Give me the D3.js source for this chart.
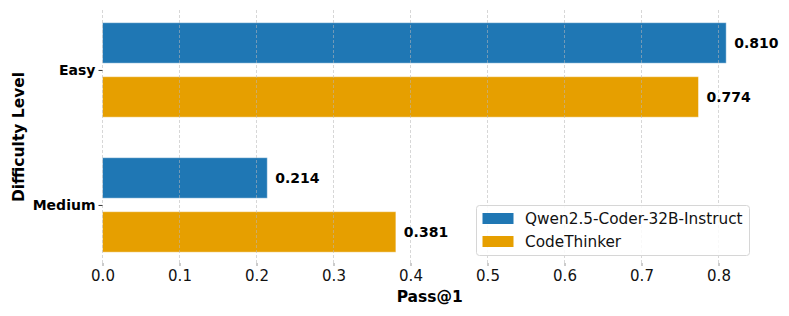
<!DOCTYPE html>
<html>
<head>
<meta charset="utf-8">
<script src="https://cdn.jsdelivr.net/npm/d3@7"></script>
<style>
  body { margin: 0; background: #fff; }
  svg { font-family: "DejaVu Sans", sans-serif; }
</style>
</head>
<body>
<svg width="789" height="316"></svg>
<script>
// difficulty levels, top to bottom
var categories = ["Easy", "Medium"];
var seriesNames = ["Qwen2.5-Coder-32B-Instruct", "CodeThinker"];
var qwenValues = [0.810, 0.214];
var thinkerValues = [0.774, 0.381];
var xTicks = [0.0, 0.1, 0.2, 0.3, 0.4, 0.5, 0.6, 0.7, 0.8];

var colors = ["#1f77b4", "#e69f00"];
var series = [qwenValues, thinkerValues];

var svg = d3.select("svg");

var plotTop = 10, plotBottom = 263;

var x = d3.scaleLinear().domain([0, 0.8]).range([102.5, 718.5]);
// category index -> pixel
var y = d3.scaleLinear().domain([-0.444, 1.43]).range([plotTop, plotBottom]);

var barH = 0.3, offsets = [-0.2, 0.2];

var bars = [];
categories.forEach(function(c, i) {
  series.forEach(function(s, j) {
    bars.push({ cat: i, series: j, value: s[i] });
  });
});

// bars
svg.append("g").selectAll("rect")
  .data(bars)
  .enter().append("rect")
  .attr("x", x(0))
  .attr("y", function(d) { return y(d.cat + offsets[d.series] - barH / 2); })
  .attr("width", function(d) { return x(d.value) - x(0); })
  .attr("height", function(d) { return y(barH) - y(0); })
  .attr("fill", function(d) { return colors[d.series]; })
  .attr("stroke", "#ffffff")
  .attr("stroke-opacity", 0.45)
  .attr("stroke-width", 1);

// grid on top of the bars
svg.append("g").selectAll("line")
  .data(xTicks)
  .enter().append("line")
  .attr("x1", function(d) { return x(d); })
  .attr("x2", function(d) { return x(d); })
  .attr("y1", plotTop)
  .attr("y2", plotBottom)
  .attr("stroke", "#b8b8b8")
  .attr("stroke-opacity", 0.7)
  .attr("stroke-width", 0.8)
  .attr("stroke-dasharray", "3,2");

// value labels
svg.append("g").selectAll("text")
  .data(bars)
  .enter().append("text")
  .attr("x", function(d) { return x(d.value) + 8; })
  .attr("y", function(d) { return y(d.cat + offsets[d.series]); })
  .attr("dy", "0.35em")
  .attr("font-size", 14)
  .attr("font-weight", "bold")
  .attr("fill", "#000")
  .text(function(d) { return d.value.toFixed(3); });

// x axis
var xAxis = svg.append("g")
  .attr("transform", "translate(0," + plotBottom + ")")
  .call(d3.axisBottom(x).tickValues(xTicks).tickFormat(d3.format(".1f")).tickSize(3).tickPadding(4));
xAxis.select(".domain").remove();
xAxis.selectAll(".tick line").attr("stroke", "#999");
xAxis.selectAll("text").attr("font-size", 15).attr("fill", "#111").attr("font-family", "DejaVu Sans");

// y axis
var yAxis = svg.append("g")
  .attr("transform", "translate(" + x(0) + ",0)")
  .call(d3.axisLeft(y).tickValues([0, 1]).tickFormat(function(i) { return categories[i]; }).tickSize(4).tickPadding(3));
yAxis.select(".domain").remove();
yAxis.selectAll(".tick line").attr("stroke", "#333");
yAxis.selectAll("text").attr("font-size", 14).attr("font-weight", "bold").attr("fill", "#000").attr("font-family", "DejaVu Sans");

// axis titles
svg.append("text")
  .attr("x", x(0.425))
  .attr("y", 302)
  .attr("text-anchor", "middle")
  .attr("font-size", 15.5)
  .attr("font-weight", "bold")
  .text("Pass@1");

svg.append("text")
  .attr("transform", "translate(24,137) rotate(-90)")
  .attr("text-anchor", "middle")
  .attr("font-size", 15.5)
  .attr("font-weight", "bold")
  .text("Difficulty Level");

// legend
var legend = svg.append("g").attr("transform", "translate(476.5,205.5)");
legend.append("rect")
  .attr("width", 273)
  .attr("height", 50)
  .attr("rx", 3)
  .attr("fill", "#fff")
  .attr("fill-opacity", 0.85)
  .attr("stroke", "#d6d6d6");
var item = legend.selectAll("g.item")
  .data(seriesNames)
  .enter().append("g")
  .attr("class", "item")
  .attr("transform", function(d, i) { return "translate(6," + (13 + i * 23) + ")"; });
item.append("rect")
  .attr("y", -5.5)
  .attr("width", 31)
  .attr("height", 11)
  .attr("fill", function(d, i) { return colors[i]; });
item.append("text")
  .attr("x", 42.5)
  .attr("dy", "0.35em")
  .attr("font-size", 15.3)
  .attr("fill", "#111")
  .text(function(d) { return d; });
</script>
</body>
</html>
